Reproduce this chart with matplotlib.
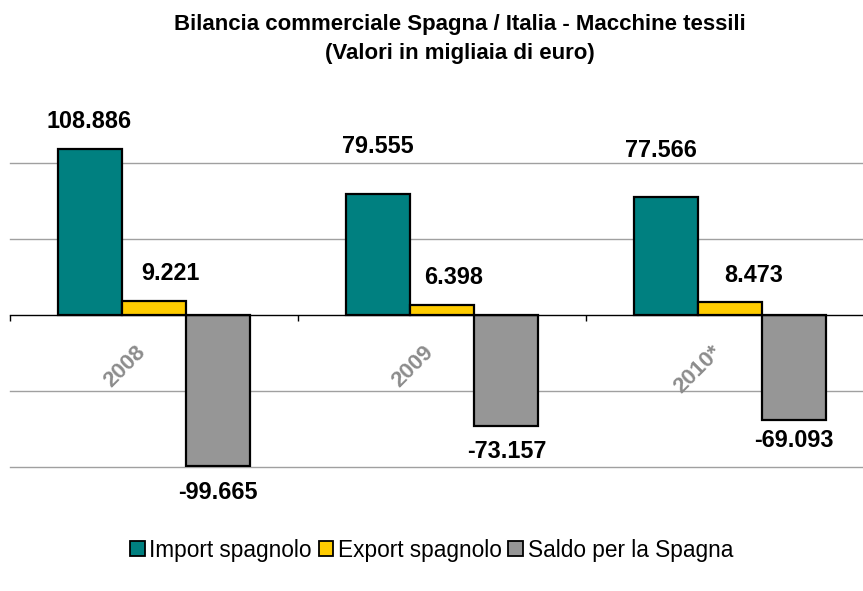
import matplotlib
matplotlib.use("Agg")
import matplotlib.pyplot as plt
from matplotlib.patches import Patch
import numpy as np

plt.rcParams['font.family'] = ['Liberation Sans', 'DejaVu Sans']

# ---- data ----
categories = ["2008", "2009", "2010*"]
series_names = ["Import spagnolo", "Export spagnolo", "Saldo per la Spagna"]
import_vals = [108886, 79555, 77566]
export_vals = [9221, 6398, 8473]
saldo_vals = [-99665, -73157, -69093]
title_text = "Bilancia commerciale Spagna / Italia - Macchine tessili\n(Valori in migliaia di euro)"

# ---- style ----
colors = ["#008080", "#FFCC00", "#969696"]
W, H, DPI = 863, 591, 100
fig = plt.figure(figsize=(W / DPI, H / DPI), dpi=DPI)

# axes: x from px 10 to 874 (category span 288 px), y from px 87 to 467
ax = fig.add_axes([10 / W, (H - 467) / H, 864 / W, 380 / H])
ax.set_xlim(-0.5, 2.5)
ax.set_ylim(-100000, 150000)

x = np.arange(len(categories))
bw = 2 / 9
series = [import_vals, export_vals, saldo_vals]
for k, vals in enumerate(series):
    ax.bar(x + (k - 1) * bw, vals, width=bw, color=colors[k],
           edgecolor="black", linewidth=1.6, zorder=3)

# gridlines
for gy in [-100000, -50000, 50000, 100000]:
    ax.axhline(gy, color="#A0A0A0", linewidth=1.0, zorder=1, clip_on=False)

for s in ["top", "right", "left"]:
    ax.spines[s].set_visible(False)
ax.spines["bottom"].set_position(("data", 0))
ax.spines["bottom"].set_color("black")
ax.spines["bottom"].set_linewidth(1.0)
ax.spines["bottom"].set_zorder(4)
ax.set_yticks([])
ax.set_xticks(x)
ax.set_xticklabels([])
ax.tick_params(axis="x", which="major", length=0)
ax.set_xticks(np.arange(-0.5, 3.0, 1.0), minor=True)
ax.tick_params(axis="x", which="minor", direction="out", length=4.5, width=1.0, color="black")

# category labels (rotated)
for i, c in enumerate(categories):
    ax.annotate(c, xy=(i, 0), xycoords="data", xytext=(-12 * 0.72, -34 * 0.72),
                textcoords="offset points", rotation=45, rotation_mode="anchor",
                ha="right", va="center", fontsize=16, fontweight="bold", color="#8C8C8C")

# value labels: offsets in pixels (dx, dy) from bar end
label_offsets = [
    [(-1, -28), (0, -48), (-5, -47)],
    [(16, -27), (12, -28), (24, -27)],
    [(0, 26), (1, 25), (0, 20)],
]

def fmt(v):
    return f"{v:,}".replace(",", ".")

for k, vals in enumerate(series):
    for i, v in enumerate(vals):
        dx, dy = label_offsets[k][i]
        ax.annotate(fmt(v), xy=(x[i] + (k - 1) * bw, v), xycoords="data",
                    xytext=(dx * 0.72, -dy * 0.72), textcoords="offset points",
                    ha="center", va="center", fontsize=16.8, fontweight="bold", color="black")

fig.text(460 / W, 1 - 39 / H, title_text, ha="center", va="center",
         fontsize=16, fontweight="bold", linespacing=1.45)

handles = [Patch(facecolor=colors[k], edgecolor="black", linewidth=1.3) for k in range(3)]
fig.legend(handles, series_names, loc="center", bbox_to_anchor=(431.5 / W, (H - 550) / H),
           ncol=3, frameon=False, fontsize=16.3, handlelength=0.65, handleheight=0.65,
           handletextpad=0.2, columnspacing=0.3, borderpad=0)

fig.savefig("out.png", dpi=DPI)
